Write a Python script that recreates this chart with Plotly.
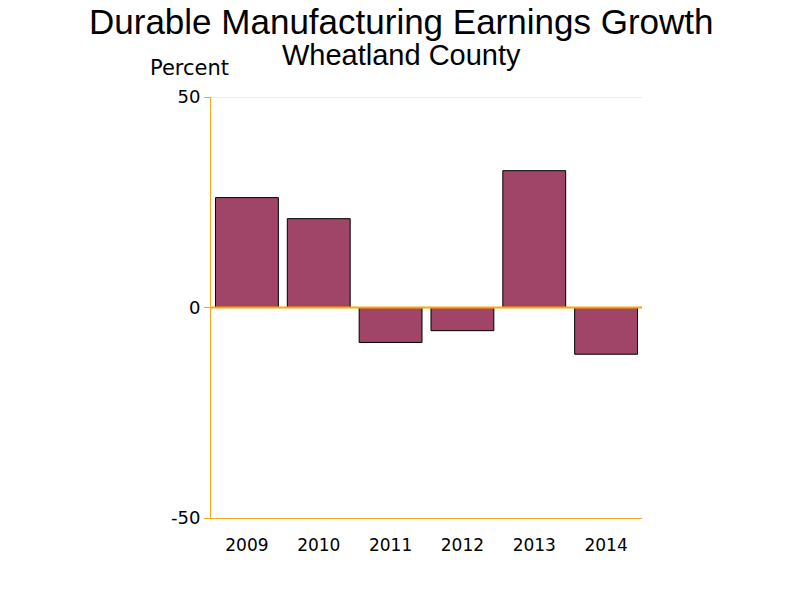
import plotly.graph_objects as go

# data
years = ["2009", "2010", "2011", "2012", "2013", "2014"]
growth_pct = [26.1, 21.1, -8.3, -5.5, 32.5, -11.1]

title = "Durable Manufacturing Earnings Growth"
subtitle = "Wheatland County"

bar_color = "#a04468"
axis_color = "#f5a623"

fig = go.Figure()

fig.add_trace(go.Bar(
    x=years,
    y=growth_pct,
    width=0.875,
    marker=dict(color=bar_color, line=dict(color="black", width=1)),
    showlegend=False,
))

# title + subtitle in one block, centred on the page (not on the plot)
fig.add_annotation(
    text=(f"<span style='font-size:35px'>{title}</span><br>"
          f"<span style='font-size:29px'>{subtitle}</span>"),
    xref="paper", yref="paper", x=0, y=1,
    xanchor="center", yanchor="top", xshift=190, yshift=96,
    showarrow=False, borderpad=0,
    font=dict(family="Liberation Sans", size=24, color="black"),
)
fig.add_annotation(
    text="Percent",
    xref="paper", yref="paper", x=0, y=1,
    xanchor="center", yanchor="middle", xshift=-22, yshift=29,
    showarrow=False,
    font=dict(family="DejaVu Sans", size=21, color="black"),
)

# gridline at the top and zero line drawn over the bars
fig.add_shape(type="line", xref="paper", yref="y", x0=0, x1=1, y0=50, y1=50,
              line=dict(color="#dedede", width=1), layer="below")
fig.add_shape(type="line", xref="paper", yref="y", x0=0, x1=1, y0=0, y1=0,
              line=dict(color="#ffa500", width=2), layer="above")

fig.update_layout(
    width=800, height=600,
    margin=dict(l=211, r=158, t=97, b=82),
    plot_bgcolor="white",
    paper_bgcolor="white",
    font=dict(family="DejaVu Sans", size=17, color="black"),
    bargap=0.125,
)

fig.update_xaxes(
    showline=True, linecolor=axis_color, linewidth=1,
    showgrid=False, ticks="", ticklen=0,
    tickfont=dict(size=17), ticklabelstandoff=12,
)
fig.update_yaxes(
    range=[-50, 50],
    tickvals=[-50, 0, 50],
    ticktext=["-50", "0", "50"],
    showline=True, linecolor=axis_color, linewidth=1,
    showgrid=False, zeroline=False,
    ticks="outside", ticklen=6, tickcolor=axis_color,
    tickfont=dict(size=18),
)

# drop the browser's default body margin so the 800x600 figure fills the window
fig.write_html(
    "out.html",
    config={"displayModeBar": False},
    post_script="document.body.style.margin = '0';",
)
